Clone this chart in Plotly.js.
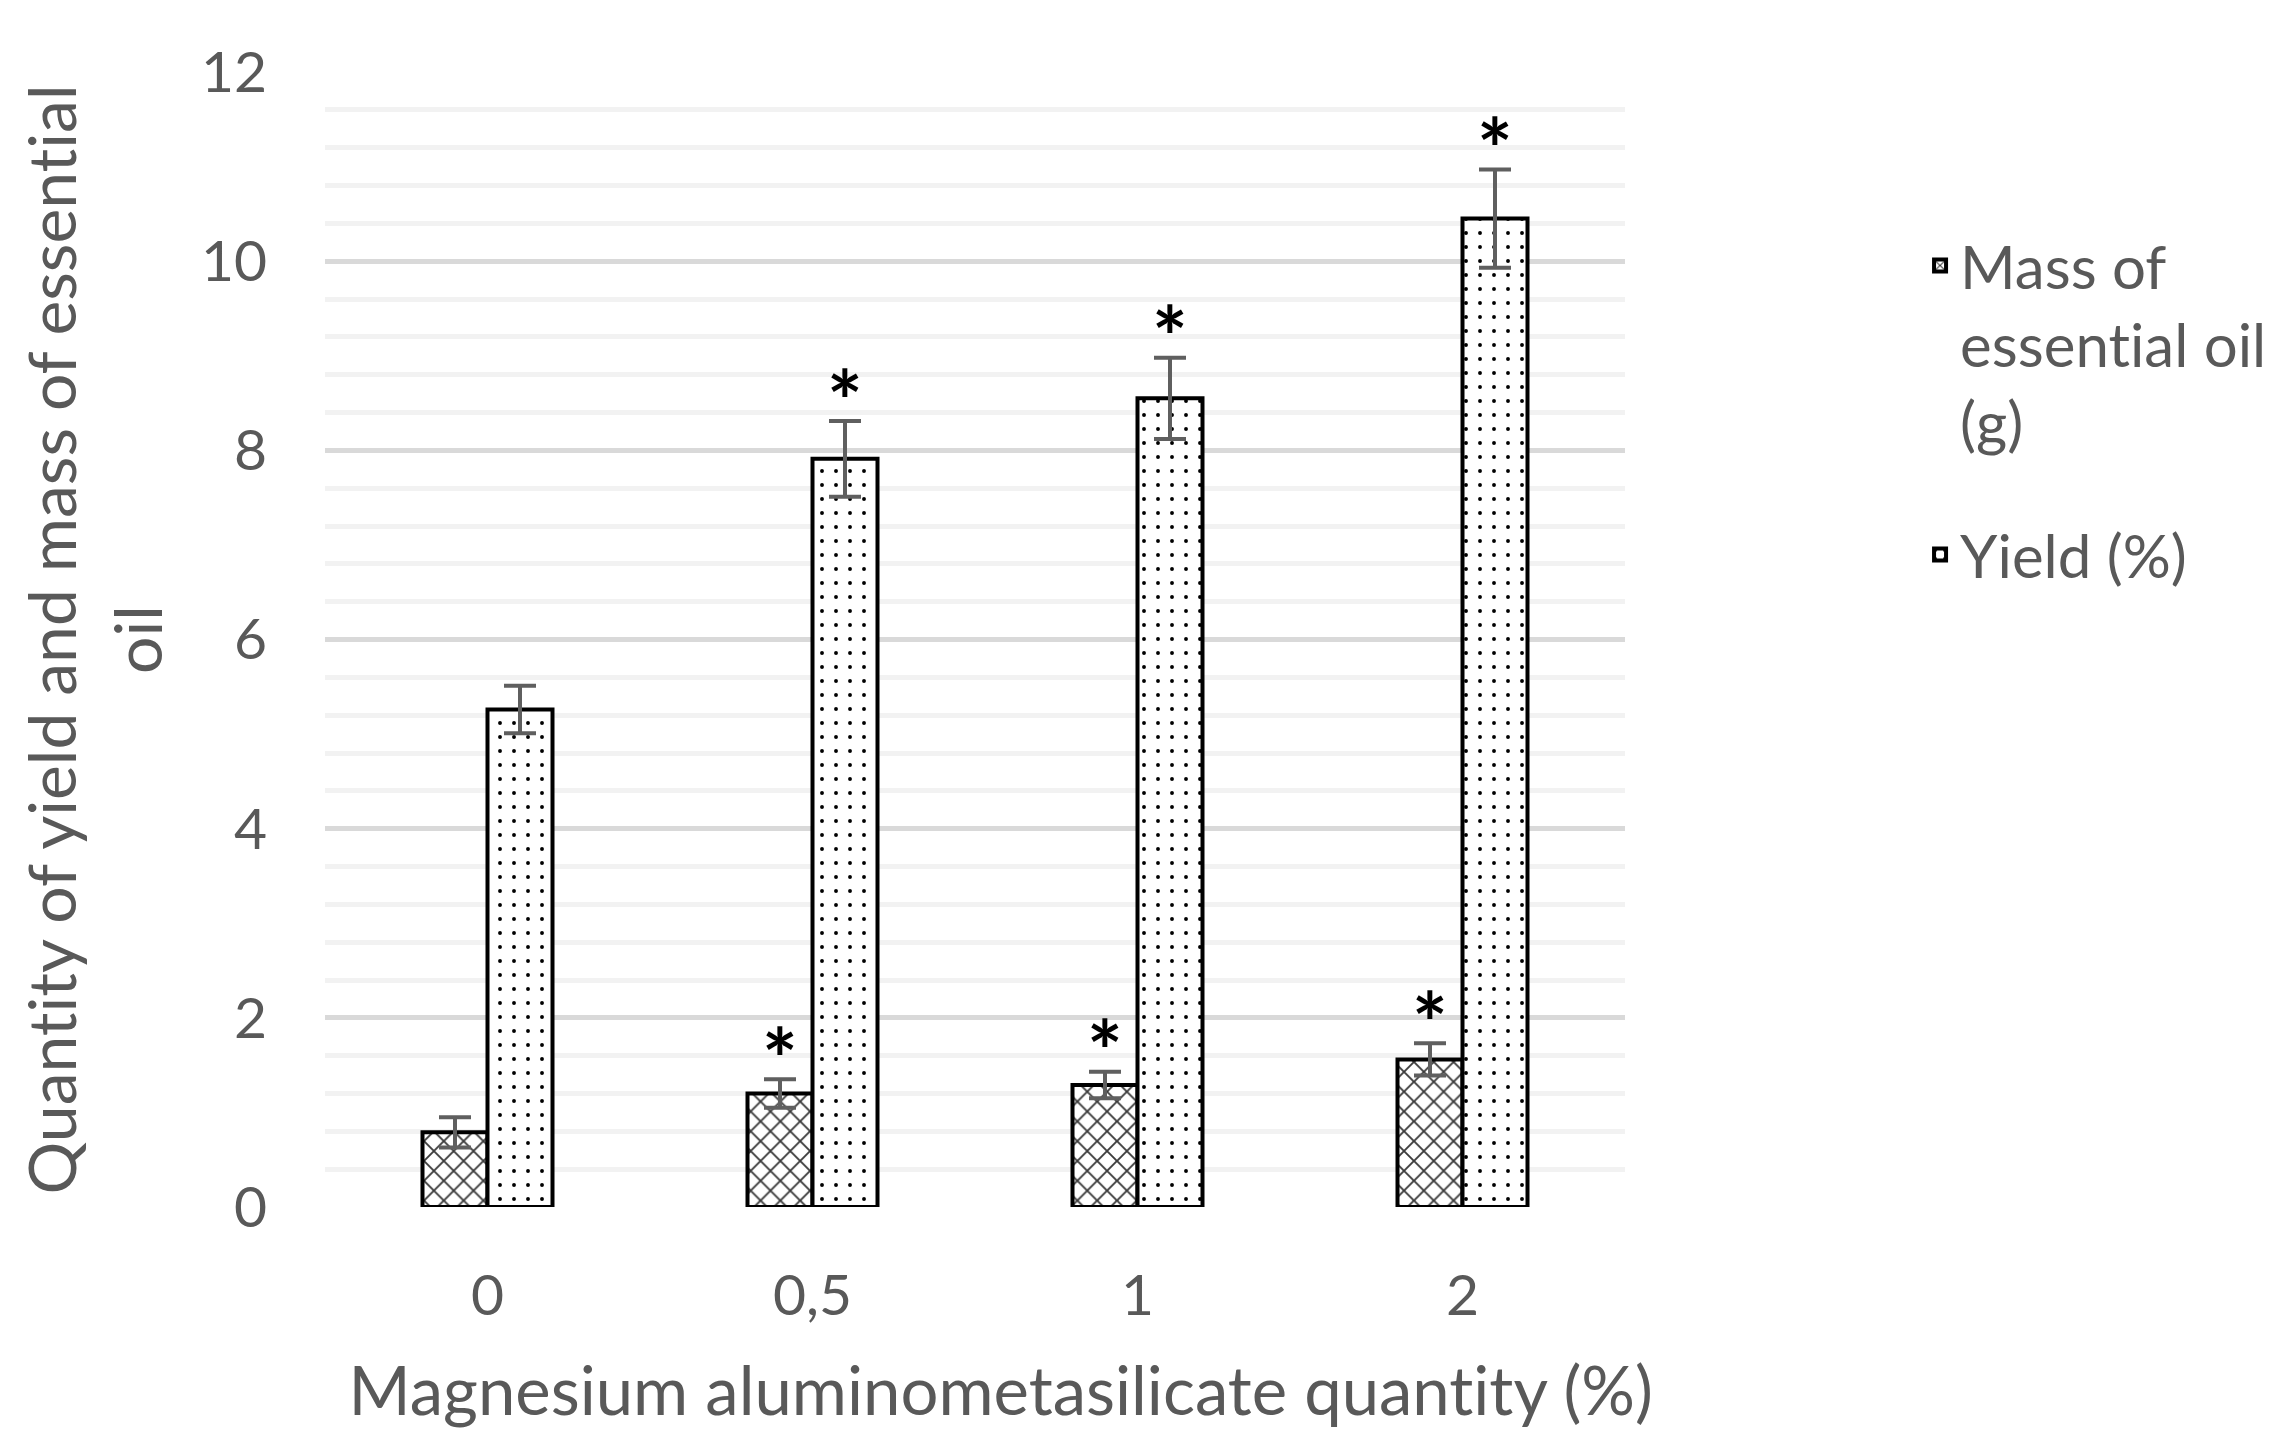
<!DOCTYPE html>
<html>
<head>
<meta charset="utf-8">
<script src="https://cdn.plot.ly/plotly-3.0.1.min.js"></script>
<style>
  html, body { margin: 0; padding: 0; background: #fff; }
  #chart { width: 2279px; height: 1451px; }
  #chart text {
    font-variant-ligatures: none !important;
    font-feature-settings: "liga" 0, "clig" 0, "dlig" 0 !important;
  }
</style>
</head>
<body>
<div id="chart"></div>
<script>
// categories (magnesium aluminometasilicate, %)
var categories = ['0', '0,5', '1', '2'];

// mass of essential oil (g)
var massValues = [0.79, 1.20, 1.29, 1.56];
var massErrors = [0.16, 0.15, 0.14, 0.17];
var massSignificant = [false, true, true, true];

// yield (%)
var yieldValues = [5.26, 7.91, 8.55, 10.45];
var yieldErrors = [0.25, 0.40, 0.43, 0.52];
var yieldSignificant = [false, true, true, true];

var yTicks = [0, 2, 4, 6, 8, 10, 12];

var FONT = 'Lato, "Open Sans", sans-serif';
var GREY = '#595959';
var BAR_W = 0.2;

var idx = categories.map(function (c, i) { return i; });

var errStyle = function (arr) {
    return {type: 'data', array: arr, visible: true, color: '#5f5f5f', thickness: 4, width: 16};
};

var traceMass = {
    type: 'bar',
    name: 'Mass of<br>essential oil<br>(g)',
    legendgroup: 'mass',
    x: idx,
    y: massValues,
    width: BAR_W,
    offset: -BAR_W,
    error_y: errStyle(massErrors),
    marker: {
        color: '#ffffff',
        line: {color: '#000000', width: 4},
        pattern: {shape: 'x', path: 'M0,9L3.5,5.5L7,2L10.5,5.5L14,9L14,12L10.5,8.5L7,5L3.5,8.5L0,12Z',
                  fgcolor: '#3a3a3a', bgcolor: '#ffffff', size: 14, solidity: 0.25}
    }
};

var traceYield = {
    type: 'bar',
    name: 'Yield (%)',
    legendgroup: 'yield',
    x: idx,
    y: yieldValues,
    width: BAR_W,
    offset: 0,
    error_y: errStyle(yieldErrors),
    marker: {
        color: '#ffffff',
        line: {color: '#000000', width: 4},
        pattern: {shape: '.', fgcolor: '#000000', bgcolor: '#ffffff', size: 14, solidity: 0.06}
    }
};

// significance asterisks above the error bars
var star = function (x, y) {
    return {x: x, y: y, xref: 'x', yref: 'y',
        text: '<b>*</b>', showarrow: false, yanchor: 'middle', yshift: 22,
        font: {family: FONT, size: 84, color: '#000000'}};
};
var annotations = [];
idx.forEach(function (i) {
    if (massSignificant[i]) annotations.push(star(i - BAR_W / 2, massValues[i] + massErrors[i]));
    if (yieldSignificant[i]) annotations.push(star(i + BAR_W / 2, yieldValues[i] + yieldErrors[i]));
});

var layout = {
    width: 2279,
    height: 1451,
    margin: {l: 325, r: 654, t: 72, b: 244},
    paper_bgcolor: '#ffffff',
    plot_bgcolor: '#ffffff',
    font: {family: FONT, size: 56, color: GREY},
    barmode: 'overlay',
    showlegend: true,
    legend: {
        xref: 'container', yref: 'container',
        x: 0.8425, y: 0.8484, xanchor: 'left', yanchor: 'top',
        valign: 'top',
        tracegroupgap: 52,
        font: {family: FONT, size: 60, color: GREY},
        bgcolor: 'rgba(0,0,0,0)'
    },
    xaxis: {
        range: [-0.5, categories.length - 0.5],
        tickvals: idx,
        ticktext: categories,
        showgrid: false,
        zeroline: false,
        showline: false,
        ticks: '',
        ticklabelstandoff: 50,
        tickfont: {family: FONT, size: 57, color: GREY},
        title: {text: '&nbsp;&nbsp;&nbsp;Magnesium aluminometasilicate quantity (%)', standoff: 42,
                font: {family: FONT, size: 67, color: GREY}}
    },
    yaxis: {
        range: [0, 12],
        tickvals: yTicks,
        showgrid: true,
        gridcolor: '#d9d9d9',
        gridwidth: 5,
        zeroline: false,
        showline: false,
        ticks: '',
        ticklabelstandoff: 57,
        tickfont: {family: FONT, size: 57, color: GREY},
        minor: {dtick: 0.4, showgrid: true, gridcolor: '#f2f2f2', gridwidth: 5},
        title: {text: 'Quantity of yield and mass of essential<br>oil', standoff: 16,
                font: {family: FONT, size: 66, color: GREY}}
    },
    annotations: annotations
};

Plotly.newPlot('chart', [traceMass, traceYield], layout, {displayModeBar: false, staticPlot: true});
</script>
</body>
</html>
